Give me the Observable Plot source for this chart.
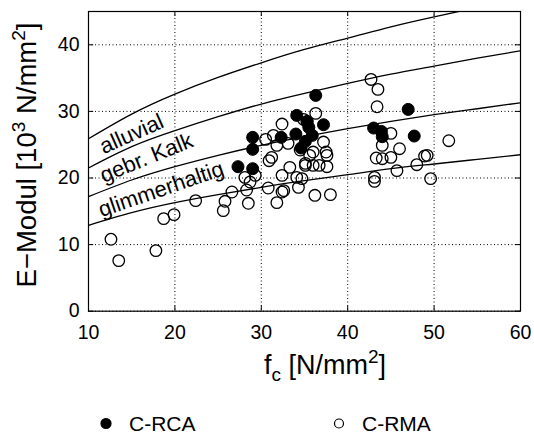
<!DOCTYPE html>
<html><head><meta charset="utf-8">
<script src="https://cdn.jsdelivr.net/npm/d3@7"></script>
<script src="https://cdn.jsdelivr.net/npm/@observablehq/plot@0.6"></script>
<style>
body{margin:0;background:#fff;font-family:"Liberation Sans",Arial,sans-serif;}
#wrap{position:relative;width:534px;height:436px;overflow:hidden;}
#legend{position:absolute;left:0;top:400px;}
</style></head><body><div id="wrap"><div id="chart"></div><div id="legend"></div></div>
<script>
// ---- data ----
const xTicks = [10, 20, 30, 40, 50, 60];
const yTicks = [0, 10, 20, 30, 40];
const fcGrid = [10, 15, 20, 25, 30, 35, 40, 45, 50, 55, 60];
const curve1 = [25.9, 29.6, 32.6, 35.1, 37.3, 39.3, 41.0, 42.7, 44.2, 45.6, 47.0];
const curve2 = [21.5, 24.7, 27.1, 29.2, 31.1, 32.7, 34.2, 35.6, 36.8, 38.0, 39.1];
const curve3 = [17.2, 19.7, 21.7, 23.4, 24.9, 26.2, 27.4, 28.5, 29.5, 30.4, 31.3];
const curve4 = [12.9, 14.8, 16.3, 17.5, 18.6, 19.6, 20.5, 21.4, 22.1, 22.8, 23.5];
const curveLabels = ["alluvial", "gebr. Kalk", "glimmerhaltig"];
const labelX = [15.0, 16.7, 18.4];
const labelY = [26.6, 23.0, 18.3];
const labelAngle = [-24, -22, -19];

const rcaFc = [27.3, 29.0, 29.0, 29.0, 32.3, 34.1, 34.0, 34.6, 35.1, 35.5, 35.9, 36.3, 37.2, 35.3, 43.0, 43.9, 44.0, 47.0, 47.7];
const rcaE  = [21.7, 21.4, 26.1, 24.3, 26.1, 29.4, 26.6, 24.5, 25.5, 27.6, 26.4, 32.4, 28.0, 28.5, 27.5, 27.0, 26.2, 30.3, 26.3];

const rmaFc = [12.6, 13.5, 17.8, 18.7, 19.9, 22.4, 25.6, 25.8, 26.6, 28.1, 28.3, 28.5, 28.7, 29.3, 30.8, 30.9, 31.2, 31.4, 31.8, 31.8,
               32.4, 32.4, 32.4, 32.6, 33.1, 33.3, 34.1, 34.3, 34.5, 35.1, 35.1, 35.3, 34.9, 36.3, 36.0, 35.6, 36.0, 36.7, 37.2, 37.5,
               37.6, 37.6, 36.2, 38.0, 34.7, 42.7, 43.5, 43.4, 45.0, 44.0, 46.0, 43.3, 44.0, 45.0, 45.7, 48.0, 48.9, 49.2, 43.1, 43.1,
               49.6, 51.7, 30.5];
const rmaE  = [10.8, 7.6, 9.1, 13.9, 14.5, 16.6, 15.1, 16.5, 17.9, 20.1, 18.2, 16.2, 19.4, 20.4, 18.5, 22.6, 23.1, 26.4, 24.9, 16.3,
               28.1, 20.4, 17.9, 18.1, 25.2, 21.6, 20.1, 18.6, 24.2, 21.9, 22.2, 28.4, 28.8, 29.7, 23.9, 23.4, 21.9, 21.9, 25.4, 23.9,
               23.4, 21.7, 17.4, 17.5, 19.9, 34.8, 33.3, 30.7, 26.7, 24.9, 24.4, 23.0, 22.9, 23.1, 21.1, 22.0, 23.3, 23.4, 20.1, 19.5,
               19.9, 25.6, 25.8];

// ---- tables ----
const curves = [curve1, curve2, curve3, curve4];
const curveRows = curves.flatMap((c, i) => c.map((E, j) => ({curve: i, fc: fcGrid[j], E})));
const labelRows = curveLabels.map((t, i) => ({text: t, x: labelX[i], y: labelY[i], a: labelAngle[i]}));
const rca = rcaFc.map((x, i) => ({x, y: rcaE[i]}));
const rma = rmaFc.map((x, i) => ({x, y: rmaE[i]}));

const font = "Liberation Sans, Arial, sans-serif";
const W = 534, H = 400;
const xMin = xTicks[0], xMax = xTicks[xTicks.length - 1];
const yMin = yTicks[0], yMax = 45;

const chart = Plot.plot({
  width: W, height: H,
  marginLeft: 88, marginRight: 14, marginTop: 11, marginBottom: 89.3,
  x: {domain: [xMin, xMax], ticks: xTicks},
  y: {domain: [yMin, yMax], ticks: yTicks},
  style: {fontFamily: font, fontSize: "19.5px", color: "black", background: "white"},
  marks: [
    Plot.gridX(xTicks, {stroke: "black", strokeOpacity: 1, strokeWidth: 1, strokeDasharray: "1,2.5"}),
    Plot.gridY(yTicks, {stroke: "black", strokeOpacity: 1, strokeWidth: 1, strokeDasharray: "1,2.5"}),
    // inward ticks on all four sides
    Plot.ruleX(xTicks, {y1: yMin, y2: yMin + 0.75, stroke: "black"}),
    Plot.ruleX(xTicks, {y1: yMax, y2: yMax - 0.75, stroke: "black"}),
    Plot.ruleY(yTicks, {x1: xMin, x2: xMin + 0.6, stroke: "black"}),
    Plot.ruleY(yTicks, {x1: xMax, x2: xMax - 0.6, stroke: "black"}),
    Plot.line(curveRows, {x: "fc", y: "E", z: "curve", curve: "natural", stroke: "black", strokeWidth: 1.3, clip: true}),
    Plot.text(labelRows, {x: "x", y: "y", text: "text", rotate: "a", fontSize: 22, fill: "black"}),
    Plot.dot(rma, {x: "x", y: "y", r: 5.8, stroke: "black", strokeWidth: 1.3, fill: "none"}),
    Plot.dot(rca, {x: "x", y: "y", r: 6, stroke: "black", strokeWidth: 1, fill: "black"}),
    Plot.frame({stroke: "black", strokeWidth: 1.2}),
    Plot.axisX(xTicks, {anchor: "bottom", tickSize: 0, tickPadding: 13.5, label: null, fontSize: 19.5}),
    Plot.axisY(yTicks, {anchor: "left", tickSize: 0, tickPadding: 9, label: null, fontSize: 19.5})
  ]
});
document.getElementById("chart").appendChild(chart);

// axis titles with sub/superscripts
const svg = d3.select(chart);
const xl = svg.append("text").attr("x", 325).attr("y", 374).attr("text-anchor", "middle")
  .attr("font-family", font).attr("font-size", 27).attr("fill", "black");
xl.append("tspan").text("f");
xl.append("tspan").attr("dy", 7).attr("font-size", 19).text("c");
xl.append("tspan").attr("dy", -7).text(" [N/mm");
xl.append("tspan").attr("dy", -11).attr("font-size", 19).text("2");
xl.append("tspan").attr("dy", 11).text("]");

const yl = svg.append("text").attr("transform", "translate(36,155) rotate(-90)").attr("text-anchor", "middle")
  .attr("font-family", font).attr("font-size", 27.5).attr("fill", "black");
yl.append("tspan").text("E\u2212Modul [10");
yl.append("tspan").attr("dy", -11).attr("font-size", 19).text("3");
yl.append("tspan").attr("dy", 11).text(" N/mm");
yl.append("tspan").attr("dy", -11).attr("font-size", 19).text("2");
yl.append("tspan").attr("dy", 11).text("]");

// legend below the plot
const leg = d3.select("#legend").append("svg").attr("width", W).attr("height", 36);
const legendItems = [{label: "C-RCA", filled: true, cx: 106, tx: 129}, {label: "C-RMA", filled: false, cx: 339, tx: 362}];
legendItems.forEach(d => {
  leg.append("circle").attr("cx", d.cx).attr("cy", 23.5).attr("r", d.filled ? 5 : 4.5)
    .attr("fill", d.filled ? "black" : "none").attr("stroke", "black").attr("stroke-width", 1.2);
  leg.append("text").attr("x", d.tx).attr("y", 31).attr("font-family", font).attr("font-size", 21).attr("fill", "black").text(d.label);
});
</script></body></html>
